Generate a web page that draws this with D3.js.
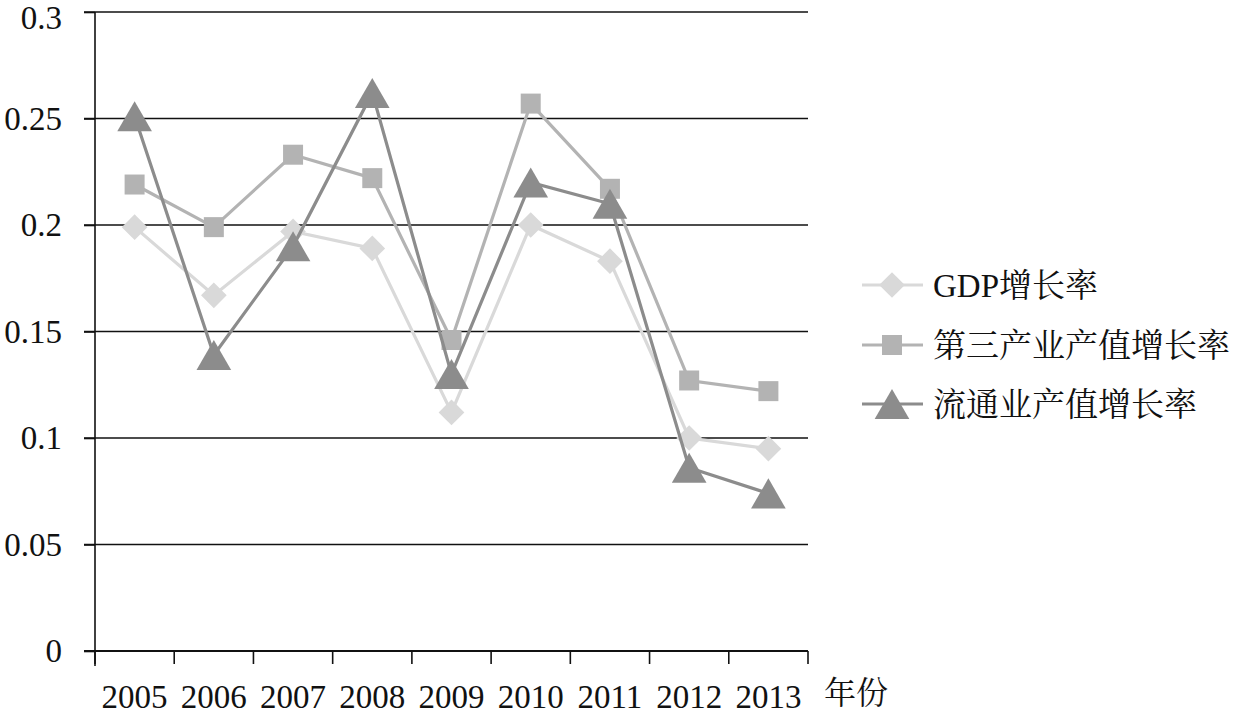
<!DOCTYPE html>
<html><head><meta charset="utf-8">
<script src="https://cdn.jsdelivr.net/npm/d3@7"></script>
<style>body{margin:0;background:#fff}svg{display:block}</style>
</head><body>
<svg id="c" width="1252" height="715"></svg>
<script>
const years = ["2005","2006","2007","2008","2009","2010","2011","2012","2013"];
const gdpGrowth      = [0.199,0.167,0.197,0.189,0.112,0.200,0.183,0.100,0.095];
const tertiaryGrowth = [0.219,0.199,0.233,0.222,0.146,0.257,0.217,0.127,0.122];
const circulationGrowth = [0.251,0.139,0.190,0.262,0.130,0.220,0.210,0.086,0.074];
const yTicks = [0,0.05,0.1,0.15,0.2,0.25,0.3];
const seriesNames = ["GDP增长率","第三产业产值增长率","流通业产值增长率"];

const svg = d3.select("#c");
const latin = "Liberation Serif, Tinos, Times New Roman, DejaVu Serif, Noto Serif, serif";
const cjk = "Liberation Serif, Tinos, Times New Roman, DejaVu Serif, Noto Serif CJK SC, Noto Sans CJK SC, serif";
const x = d3.scaleBand().domain(years).range([95,808]);
const y = d3.scaleLinear().domain([0,0.3]).range([651,12]);

// gridlines
svg.append("g").selectAll("line").data(yTicks.filter(d=>d>0)).join("line")
  .attr("x1",84).attr("x2",808).attr("y1",d=>y(d)).attr("y2",d=>y(d))
  .attr("stroke","#111").attr("stroke-width",1.6);

// y axis
const ya = svg.append("g").attr("transform","translate(95,0)")
  .call(d3.axisLeft(y).tickValues(yTicks).tickSize(11).tickPadding(22).tickFormat(d=>String(+d.toFixed(2))));
ya.select(".domain").remove();
ya.append("line").attr("x1",0).attr("x2",0).attr("y1",12).attr("y2",666).attr("stroke","#111").attr("stroke-width",1.6);
ya.selectAll(".tick line").attr("stroke","#111").attr("stroke-width",1.6);
ya.selectAll(".tick text").attr("font-family",latin).attr("font-size",33).attr("fill","#111");
ya.selectAll(".tick").filter(d=>d===0.3).select("text").attr("dy","0.5em");

// x axis
const xa = svg.append("g").attr("transform","translate(0,651)");
xa.append("line").attr("x1",84).attr("x2",808).attr("y1",0).attr("y2",0).attr("stroke","#111").attr("stroke-width",2);
const bounds = years.map(d=>x(d)).concat([x.range()[1]]);
xa.selectAll("line.tk").data(bounds).join("line").attr("class","tk")
  .attr("x1",d=>d).attr("x2",d=>d).attr("y1",0).attr("y2",13).attr("stroke","#111").attr("stroke-width",1.6);
xa.selectAll("text.lb").data(years).join("text").attr("class","lb")
  .attr("x",d=>x(d)+x.bandwidth()/2).attr("y",57).attr("text-anchor","middle")
  .attr("font-family",latin).attr("font-size",33).attr("fill","#111").text(d=>d);
svg.append("text").attr("x",824).attr("y",704).attr("font-family",cjk).attr("font-size",32).attr("fill","#111").text("年份");

const cx = d => x(d)+x.bandwidth()/2;
const series = [
  {name:seriesNames[0], vals:gdpGrowth, color:"#d9d9d9", sym:"diamond"},
  {name:seriesNames[1], vals:tertiaryGrowth, color:"#b3b3b3", sym:"square"},
  {name:seriesNames[2], vals:circulationGrowth, color:"#8c8c8c", sym:"triangle"}
];
function marker(g, s){
  if(s.sym==="diamond") g.append("path").attr("d",d3.symbol(d3.symbolSquare,330)()).attr("transform","rotate(45)").attr("fill",s.color);
  else if(s.sym==="square") g.append("path").attr("d",d3.symbol(d3.symbolSquare,400)()).attr("fill",s.color);
  else g.append("path").attr("d",d3.symbol(d3.symbolTriangle,520)()).attr("transform","translate(0,5)").attr("fill",s.color);
}
const line = d3.line().x((d,i)=>cx(years[i])).y(d=>y(d));
series.forEach(s=>{
  const g = svg.append("g");
  g.append("path").attr("d",line(s.vals)).attr("fill","none").attr("stroke",s.color).attr("stroke-width",3.2);
  s.vals.forEach((v,i)=>{
    const m = g.append("g").attr("transform",`translate(${cx(years[i])},${y(v)})`);
    marker(m,s);
  });
});

// legend
const ly = [285,345,404];
series.forEach((s,i)=>{
  const g = svg.append("g").attr("transform",`translate(0,${ly[i]})`);
  g.append("line").attr("x1",862).attr("x2",923).attr("stroke",s.color).attr("stroke-width",3.2);
  const m = g.append("g").attr("transform","translate(892,0)");
  marker(m,s);
  g.append("text").attr("x",933).attr("y",0).attr("dy","0.36em")
    .attr("font-family",cjk).attr("font-size",33).attr("fill","#111").text(s.name);
});
</script>
</body></html>
